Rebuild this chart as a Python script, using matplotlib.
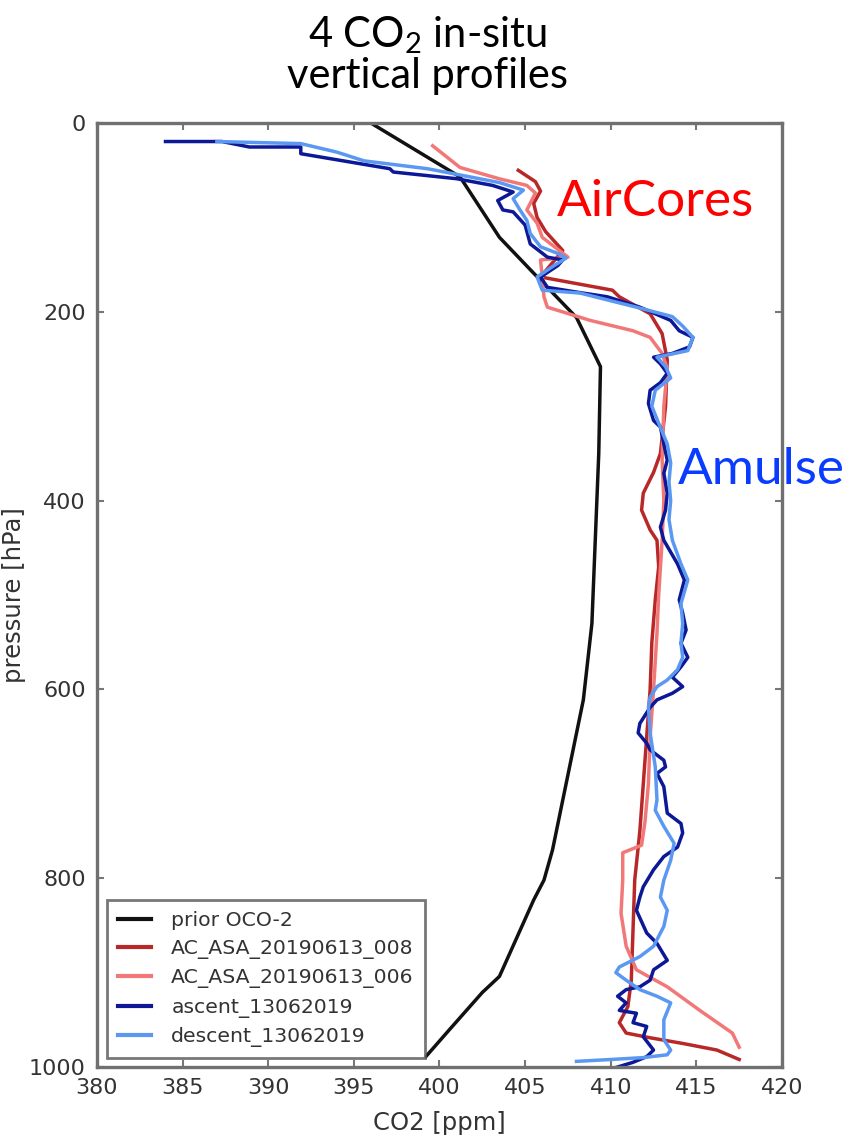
import matplotlib
matplotlib.use("Agg")
import matplotlib.pyplot as plt

plt.rcParams["mathtext.fontset"] = "custom"
plt.rcParams["mathtext.rm"] = "Lato"
plt.rcParams["mathtext.default"] = "regular"

# (pressure [hPa], CO2 [ppm]) pairs for each profile
prior_oco2 = [(0, 396.0), (57, 401.2), (121, 403.5), (159, 405.5), (206, 408.0),
              (258, 409.4), (350, 409.3), (440, 409.1), (530, 408.9), (611, 408.4),
              (717, 407.2), (770, 406.6), (802, 406.1), (823, 405.5), (904, 403.5),
              (921, 402.5), (960, 400.6), (989, 399.2)]

ac_008 = [(50, 404.6), (62, 405.6), (72, 405.9), (85, 405.5), (100, 405.7), (115, 406.2),
          (135, 407.2), (150, 406.5), (163, 405.9), (177, 410.1), (184, 410.5), (202, 412.3),
          (223, 413.0), (251, 413.3), (300, 413.2), (350, 412.9), (370, 412.5), (392, 411.9),
          (410, 411.8), (431, 412.3), (442, 412.7), (470, 412.8), (505, 412.6), (550, 412.4),
          (600, 412.3), (650, 412.1), (700, 411.9), (750, 411.7), (802, 411.4), (855, 411.3),
          (908, 411.2), (936, 411.0), (953, 410.5), (964, 410.9), (969, 412.3), (975, 414.2),
          (982, 416.2), (992, 417.5)]

ac_006 = [(24, 399.6), (47, 401.2), (59, 403.5), (66, 405.1), (74, 405.6), (85, 405.3),
          (92, 405.1), (106, 405.7), (121, 406.0), (135, 407.0), (142, 407.5), (145, 405.9),
          (163, 406.0), (184, 406.1), (195, 406.3), (209, 408.8), (220, 411.3), (227, 412.3),
          (244, 413.0), (260, 413.3), (300, 413.1), (357, 413.0), (400, 413.1), (442, 413.0),
          (500, 412.8), (540, 412.7), (600, 412.5), (650, 412.3), (700, 412.2), (740, 412.0),
          (765, 411.8), (773, 410.7), (802, 410.7), (837, 410.6), (872, 410.9), (897, 411.5),
          (915, 413.3), (940, 415.2), (964, 417.1), (979, 417.5)]

ascent = [(19.5, 384.0), (19.5, 387.3), (25.3, 388.9), (25.3, 391.9), (32.4, 391.9),
          (48.3, 397.1), (51.8, 397.3), (58.9, 401.0), (66, 403.1), (73, 404.3), (82, 403.4),
          (92, 403.7), (94, 404.3), (108, 405.0), (128, 405.3), (142, 406.3), (145, 407.2),
          (151, 406.9), (163, 405.9), (174, 406.3), (179, 408.0), (184, 409.8), (195, 411.7),
          (209, 413.5), (220, 414.0), (227, 414.8), (237, 414.6), (244, 413.6), (248, 412.5),
          (255, 412.9), (265, 413.3), (275, 412.9), (283, 412.3), (297, 412.2), (315, 412.5),
          (322, 412.9), (340, 413.1), (357, 413.3), (371, 413.1), (392, 413.3), (410, 413.2),
          (428, 412.9), (442, 413.1), (467, 413.9), (484, 414.3), (505, 414.0), (519, 414.2),
          (537, 414.4), (551, 414.1), (566, 414.5), (576, 414.1), (587, 413.6), (597, 414.2),
          (604, 413.6), (611, 412.7), (619, 412.3), (636, 411.7), (646, 411.6), (657, 412.1),
          (664, 412.3), (675, 413.1), (682, 413.2), (689, 412.7), (703, 413.1), (731, 413.3),
          (742, 414.1), (752, 414.2), (767, 413.9), (777, 413.1), (791, 412.5), (809, 411.9),
          (820, 411.7), (834, 411.5), (858, 412.1), (869, 412.7), (887, 413.3), (897, 412.5),
          (908, 412.3), (915, 411.7), (918, 410.9), (925, 410.4), (932, 410.9), (940, 410.5),
          (943, 411.5), (953, 411.3), (957, 412.1), (968, 411.9), (982, 412.5), (989, 412.1),
          (995, 411.3), (1000, 410.4)]

descent = [(19.5, 387.0), (21.7, 391.9), (30.7, 394.0), (40, 395.6), (48.3, 399.3),
           (63, 403.5), (71, 404.9), (80, 404.3), (92, 404.7), (103, 405.1), (117, 405.3),
           (131, 405.9), (138, 406.9), (143, 407.4), (152, 406.6), (163, 405.7), (177, 406.0),
           (180, 408.2), (195, 411.5), (205, 413.6), (215, 414.2), (227, 414.8), (241, 414.5),
           (248, 412.7), (258, 413.2), (270, 413.5), (283, 412.6), (300, 412.4), (318, 412.8),
           (340, 413.3), (360, 413.5), (380, 413.4), (400, 413.5), (420, 413.4), (442, 413.6),
           (467, 414.1), (484, 414.5), (509, 414.1), (530, 414.2), (551, 414.1), (566, 414.2),
           (579, 413.9), (590, 413.3), (597, 412.7), (608, 412.3), (619, 412.2), (646, 412.3),
           (682, 412.6), (717, 412.7), (728, 412.6), (745, 413.1), (763, 413.7), (781, 413.5),
           (802, 413.1), (820, 412.9), (834, 413.3), (851, 413.1), (872, 412.5), (883, 411.7),
           (894, 410.5), (900, 410.3), (908, 410.9), (918, 411.7), (925, 412.7), (932, 413.5),
           (950, 413.1), (971, 413.1), (982, 413.5), (987, 413.3), (990, 411.9), (992, 410.0),
           (994, 408.0)]

series_labels = ["prior OCO-2", "AC_ASA_20190613_008", "AC_ASA_20190613_006",
                 "ascent_13062019", "descent_13062019"]
series_colors = ["#111111", "#b82828", "#f27878", "#0c1896", "#5b98f2"]
x_ticks = [380, 385, 390, 395, 400, 405, 410, 415, 420]
y_ticks = [0, 200, 400, 600, 800, 1000]

fig = plt.figure(figsize=(8.66, 11.4), dpi=100)
ax = fig.add_axes([0.112, 0.064, 0.791, 0.828])

profiles = [prior_oco2, ac_008, ac_006, ascent, descent]
for prof, lab, col in zip(profiles, series_labels, series_colors):
    p = [pt[0] for pt in prof]
    c = [pt[1] for pt in prof]
    ax.plot(c, p, color=col, lw=2.5, label=lab, solid_joinstyle="round")

ax.set_xlim(380, 420)
ax.set_ylim(1000, 0)
ax.set_xticks(x_ticks)
ax.set_yticks(y_ticks)
ax.tick_params(direction="in", length=5, width=1.5, color="#777777",
               top=True, right=True, labelsize=16, labelcolor="#333333", pad=8)
for s in ax.spines.values():
    s.set_color("#707070")
    s.set_linewidth(2.4)

ax.set_xlabel("CO2 [ppm]", fontsize=17.5, color="#333333")
ax.xaxis.set_label_coords(0.5, -0.047)
ax.set_ylabel("pressure [hPa]", fontsize=17.5, color="#333333")
ax.yaxis.set_label_coords(-0.103, 0.5)

leg = ax.legend(loc="lower left", bbox_to_anchor=(0.0146, 0.0095), borderaxespad=0,
                fontsize=14.7, handlelength=1.6, handletextpad=1.0, labelspacing=0.45,
                fancybox=False, borderpad=0.55)
leg.get_frame().set_edgecolor("#555555")
leg.get_frame().set_linewidth(2.0)
for t in leg.get_texts():
    t.set_color("#333333")
for h in leg.get_lines():
    h.set_linewidth(3.0)

fig.text(0.494, 1 - 47 / 1140, "4 CO$_2$ in-situ", ha="center", va="baseline",
         fontsize=30, family="Lato", color="black")
fig.text(0.494, 1 - 88 / 1140, "vertical profiles", ha="center", va="baseline",
         fontsize=30, family="Lato", color="black")

fig.text(557 / 866, 1 - 216 / 1140, "AirCores", ha="left", va="baseline",
         fontsize=37, family="Lato", color="#ff0000")
fig.text(678 / 866, 1 - 484 / 1140, "Amulse", ha="left", va="baseline",
         fontsize=37, family="Lato", color="#0a3cff")

fig.savefig("out.png", dpi=100)
